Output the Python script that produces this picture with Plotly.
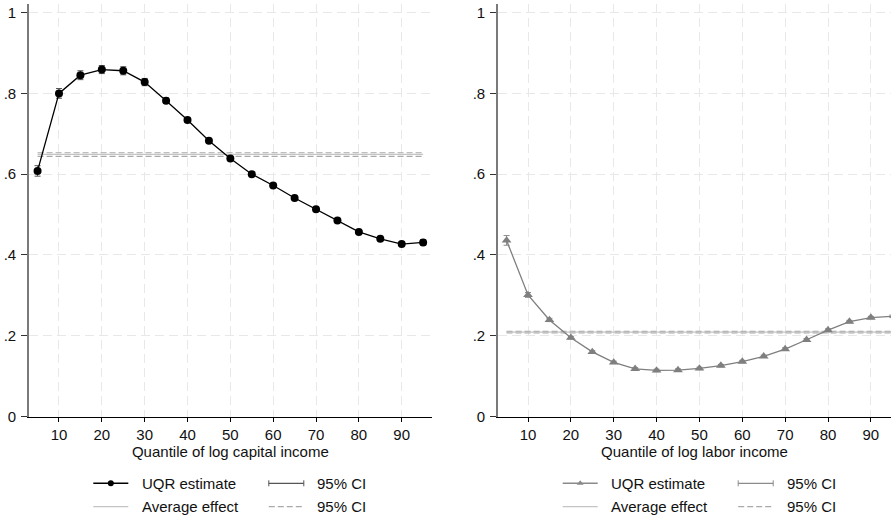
import plotly.graph_objects as go

# Quantiles at which the unconditional quantile regressions were estimated
quantiles = [5, 10, 15, 20, 25, 30, 35, 40, 45, 50, 55, 60, 65, 70, 75, 80, 85, 90, 95]

# Capital income: UQR estimates and 95% CI half-widths
cap_est = [0.608, 0.800, 0.845, 0.859, 0.856, 0.828, 0.782, 0.734, 0.683, 0.639,
           0.600, 0.572, 0.541, 0.513, 0.485, 0.457, 0.440, 0.427, 0.431]
cap_ci = [0.013, 0.012, 0.011, 0.010, 0.010, 0.009, 0.007, 0.006, 0.005, 0.004,
          0.003, 0.003, 0.003, 0.003, 0.003, 0.003, 0.003, 0.004, 0.007]
cap_avg, cap_avg_lo, cap_avg_hi = 0.649, 0.644, 0.653

# Labor income: UQR estimates and 95% CI half-widths
lab_est = [0.436, 0.301, 0.239, 0.195, 0.160, 0.134, 0.118, 0.114, 0.115, 0.119,
           0.126, 0.136, 0.149, 0.167, 0.190, 0.214, 0.235, 0.245, 0.248]
lab_ci = [0.012, 0.006, 0.004, 0.003, 0.003, 0.003, 0.003, 0.003, 0.003, 0.003,
          0.003, 0.003, 0.003, 0.003, 0.003, 0.003, 0.003, 0.003, 0.003]
lab_avg, lab_avg_lo, lab_avg_hi = 0.209, 0.207, 0.211

x_ticks = [10, 20, 30, 40, 50, 60, 70, 80, 90]
y_ticks = [0, 0.2, 0.4, 0.6, 0.8, 1.0]
y_tick_text = ["0", ".2", ".4", ".6", ".8", "1"]

legend_labels = ["UQR estimate", "95% CI", "Average effect", "95% CI"]

W, H = 891, 517
FONT = "Liberation Sans, Arial, sans-serif"
FS = 15

AVG_COLOR = "#c4c4c4"
AVG_CI_COLOR = "#a9a9a9"

fig = go.Figure()


def add_panel(est, ci, avg, lo, hi, xa, ya, line_color, marker, msize, ci_color):
    xs = [quantiles[0], quantiles[-1]]
    fig.add_trace(go.Scatter(x=xs, y=[hi, hi], mode="lines", xaxis=xa, yaxis=ya,
                             line=dict(color=AVG_CI_COLOR, width=1.2, dash="6px,3px"),
                             showlegend=False, hoverinfo="skip"))
    fig.add_trace(go.Scatter(x=xs, y=[lo, lo], mode="lines", xaxis=xa, yaxis=ya,
                             line=dict(color=AVG_CI_COLOR, width=1.2, dash="6px,3px"),
                             showlegend=False, hoverinfo="skip"))
    fig.add_trace(go.Scatter(x=xs, y=[avg, avg], mode="lines", xaxis=xa, yaxis=ya,
                             line=dict(color=AVG_COLOR, width=1.2),
                             showlegend=False, hoverinfo="skip"))
    fig.add_trace(go.Scatter(x=quantiles, y=est, mode="lines+markers", xaxis=xa, yaxis=ya,
                             line=dict(color=line_color, width=1.3),
                             marker=dict(color=line_color, size=msize, symbol=marker),
                             error_y=dict(type="data", array=ci, color=ci_color,
                                          thickness=1, width=3),
                             cliponaxis=False, showlegend=False))


add_panel(cap_est, cap_ci, cap_avg, cap_avg_lo, cap_avg_hi, "x", "y",
          "#000000", "circle", 8, "#555555")
add_panel(lab_est, lab_ci, lab_avg, lab_avg_lo, lab_avg_hi, "x2", "y2",
          "#7f7f7f", "triangle-up", 8.5, "#8c8c8c")

# plot-region geometry in pixels
top_px, bottom_px = 4, 416.5
y_dom = [(H - bottom_px) / H, (H - top_px) / H]

grid = dict(showgrid=True, gridcolor="#e8e8e8", gridwidth=1, griddash="9px,5px",
            zeroline=False, automargin=False)

xcommon = dict(tickvals=x_ticks, ticks="outside", ticklen=4, tickcolor="#000",
               showline=True, linecolor="#000", linewidth=1,
               tickfont=dict(family=FONT, size=FS, color="#111"),
               title=dict(font=dict(family=FONT, size=FS, color="#111"), standoff=4),
               **grid)
ycommon = dict(range=[0, (bottom_px - top_px) / 403.9], tickvals=y_ticks,
               ticktext=y_tick_text, ticks="outside", ticklen=6, tickcolor="#333",
               showline=True, linecolor="#7a7a7a", linewidth=1.6,
               tickfont=dict(family=FONT, size=FS, color="#111"),
               ticklabelstandoff=2, **grid)

fig.update_layout(
    width=W, height=H,
    margin=dict(l=0, r=0, t=0, b=0, autoexpand=False),
    paper_bgcolor="white", plot_bgcolor="rgba(0,0,0,0)",
    font=dict(family=FONT, size=FS, color="#111"),
    xaxis=dict(domain=[29 / W, 431.7 / W], range=[3, 97], anchor="y",
               title_text="Quantile of log capital income", **xcommon),
    yaxis=dict(domain=y_dom, anchor="x", **ycommon),
    xaxis2=dict(domain=[498 / W, 1.0], range=[3, 94.7], anchor="y2",
                title_text="Quantile of log labor income", **xcommon),
    yaxis2=dict(domain=y_dom, anchor="x2", **ycommon),
    # pixel-space overlay used for the legend keys
    xaxis3=dict(domain=[0, 1], range=[0, W], visible=False, anchor="y3",
                fixedrange=True, automargin=False),
    yaxis3=dict(domain=[0, 1], range=[H, 0], visible=False, anchor="x3",
                fixedrange=True, automargin=False),
    showlegend=False,
)


def key_line(xs, ys, color, width, dash="solid"):
    fig.add_trace(go.Scatter(x=xs, y=ys, mode="lines", xaxis="x3", yaxis="y3",
                             line=dict(color=color, width=width, dash=dash),
                             hoverinfo="skip"))


def add_legend(x0, est_color, est_marker, ci_color):
    row1, row2 = 483.3, 506.7
    key_w = 35
    col2 = x0 + 175.5
    # UQR estimate key: line with a single marker in the middle
    key_line([x0, x0 + key_w], [row1, row1], est_color, 1.5)
    fig.add_trace(go.Scatter(x=[x0 + key_w / 2], y=[row1], mode="markers",
                             xaxis="x3", yaxis="y3",
                             marker=dict(color=est_color, size=6, symbol=est_marker),
                             hoverinfo="skip"))
    # 95% CI (error bar) key
    key_line([col2, col2 + key_w], [row1, row1], ci_color, 1.3)
    for xc in (col2, col2 + key_w):
        key_line([xc, xc], [row1 - 3, row1 + 3], ci_color, 1)
    # Average effect key
    key_line([x0, x0 + key_w], [row2, row2], AVG_COLOR, 1.3)
    # Average effect CI key
    key_line([col2, col2 + key_w], [row2, row2], AVG_CI_COLOR, 1.3, "6px,3px")
    pos = [(x0 + 46.5, row1), (col2 + 46.5, row1), (x0 + 46.5, row2), (col2 + 46.5, row2)]
    for (tx, ty), label in zip(pos, legend_labels):
        fig.add_annotation(x=tx, y=ty, xref="x3", yref="y3", text=label,
                           showarrow=False, xanchor="left", yanchor="middle",
                           font=dict(family=FONT, size=FS, color="#111"))


add_legend(93.3, "#000000", "circle", "#555555")
add_legend(562.7, "#8a8a8a", "triangle-up", "#8c8c8c")

fig.write_html("out.html")
